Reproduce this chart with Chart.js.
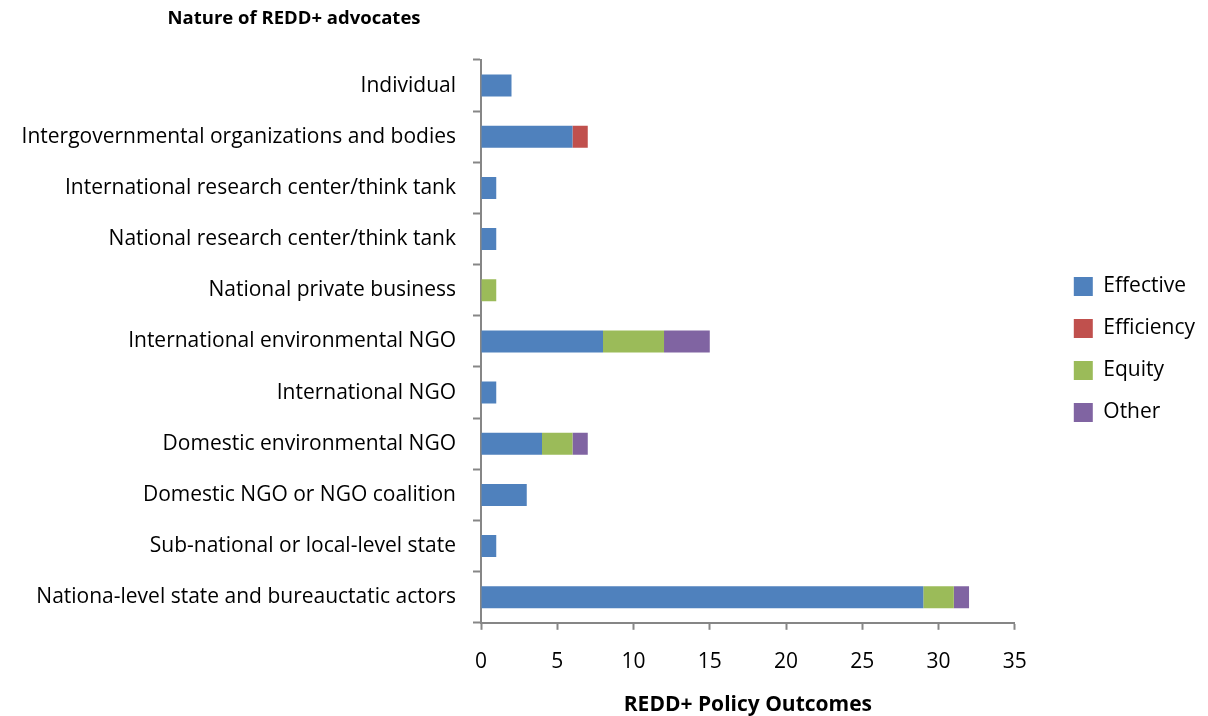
<!DOCTYPE html>
<html>
<head>
<meta charset="utf-8">
<script src="https://cdn.jsdelivr.net/npm/chart.js@4/dist/chart.umd.min.js"></script>
<style>
  html, body { margin: 0; padding: 0; background: #fff; }
  #wrap { width: 1208px; height: 716px; }
</style>
</head>
<body>
<div id="wrap"><canvas id="advocatesChart" width="1208" height="716"></canvas></div>
<script>
// Advocate categories, top to bottom
const advocates = [
  'Individual',
  'Intergovernmental organizations and bodies',
  'International research center/think tank',
  'National research center/think tank',
  'National private business',
  'International environmental NGO',
  'International NGO',
  'Domestic environmental NGO',
  'Domestic NGO or NGO coalition',
  'Sub-national or local-level state',
  'Nationa-level state and bureauctatic actors'
];

// Policy outcome counts per advocate
const effective  = [2, 6, 1, 1, 0, 8, 1, 4, 3, 1, 29];
const efficiency = [0, 1, 0, 0, 0, 0, 0, 0, 0, 0, 0];
const equity     = [0, 0, 0, 0, 1, 4, 0, 2, 0, 0, 2];
const other      = [0, 0, 0, 0, 0, 3, 0, 1, 0, 0, 1];

const xTicks = [0, 5, 10, 15, 20, 25, 30, 35];

const FONT = '"Open Sans", "Noto Sans", sans-serif';
const AXIS_GREY = '#868686';

// y-axis title sits above the category labels
const topTitle = {
  id: 'topTitle',
  afterDraw(chart) {
    const ctx = chart.ctx;
    ctx.save();
    ctx.font = 'bold 18.5px ' + FONT;
    ctx.fillStyle = '#000';
    ctx.textAlign = 'center';
    ctx.textBaseline = 'middle';
    ctx.fillText('Nature of REDD+ advocates', chart.chartArea.left - 187, 19);
    ctx.restore();
  }
};

// empty layout box that keeps some space between the plot and the legend
const legendGap = {
  id: 'legendGap',
  afterInit(chart) {
    Chart.layouts.addBox(chart, {
      position: 'right',
      weight: 500,
      fullSize: false,
      options: {},
      isHorizontal() { return false; },
      update(maxWidth, maxHeight) {
        this.width = 38;
        this.height = maxHeight;
      },
      draw() {}
    });
  }
};

function series(label, data, color) {
  return {
    label: label,
    data: data.map(v => v === 0 ? null : v),
    backgroundColor: color,
    borderWidth: 0,
    categoryPercentage: 1,
    barPercentage: 0.43
  };
}

const ctx = document.getElementById('advocatesChart').getContext('2d');
new Chart(ctx, {
  type: 'bar',
  data: {
    labels: advocates,
    datasets: [
      series('Effective', effective, '#4F81BD'),
      series('Efficiency', efficiency, '#C0504D'),
      series('Equity', equity, '#9BBB59'),
      series('Other', other, '#8064A2')
    ]
  },
  options: {
    indexAxis: 'y',
    responsive: false,
    animation: false,
    layout: { padding: { top: 60, right: 3, left: 0, bottom: 0 } },
    plugins: {
      legend: {
        position: 'right',
        fullSize: false,
        // blank title only nudges the entries a little lower
        title: {
          display: true,
          text: '',
          font: { size: 1 },
          padding: { top: 7, bottom: 8 }
        },
        labels: {
          color: '#000',
          font: { family: FONT, size: 21 },
          boxWidth: 19,
          boxHeight: 19,
          padding: 21
        }
      },
      tooltip: { enabled: false },
      title: { display: false }
    },
    scales: {
      x: {
        stacked: true,
        min: 0,
        max: 35,
        afterBuildTicks(axis) {
          axis.ticks = xTicks.map(v => ({ value: v }));
        },
        grid: {
          drawOnChartArea: false,
          drawTicks: true,
          tickLength: 7,
          tickColor: AXIS_GREY,
          tickWidth: 2
        },
        border: { color: AXIS_GREY, width: 2 },
        ticks: {
          color: '#000',
          font: { family: FONT, size: 21 },
          padding: 20
        },
        title: {
          display: true,
          text: 'REDD+ Policy Outcomes',
          color: '#000',
          font: { family: FONT, size: 21, weight: 'bold', lineHeight: 1 },
          padding: { top: 0, bottom: 0 }
        }
      },
      y: {
        stacked: true,
        afterFit(scale) {
          scale.width = 481;
        },
        grid: {
          drawOnChartArea: false,
          drawTicks: true,
          offset: true,
          tickLength: 8,
          tickColor: AXIS_GREY,
          tickWidth: 2
        },
        border: { color: AXIS_GREY, width: 2 },
        ticks: {
          color: '#000',
          font: { family: FONT, size: 21 },
          padding: 17,
          autoSkip: false
        }
      }
    }
  },
  plugins: [topTitle, legendGap]
});
</script>
</body>
</html>
